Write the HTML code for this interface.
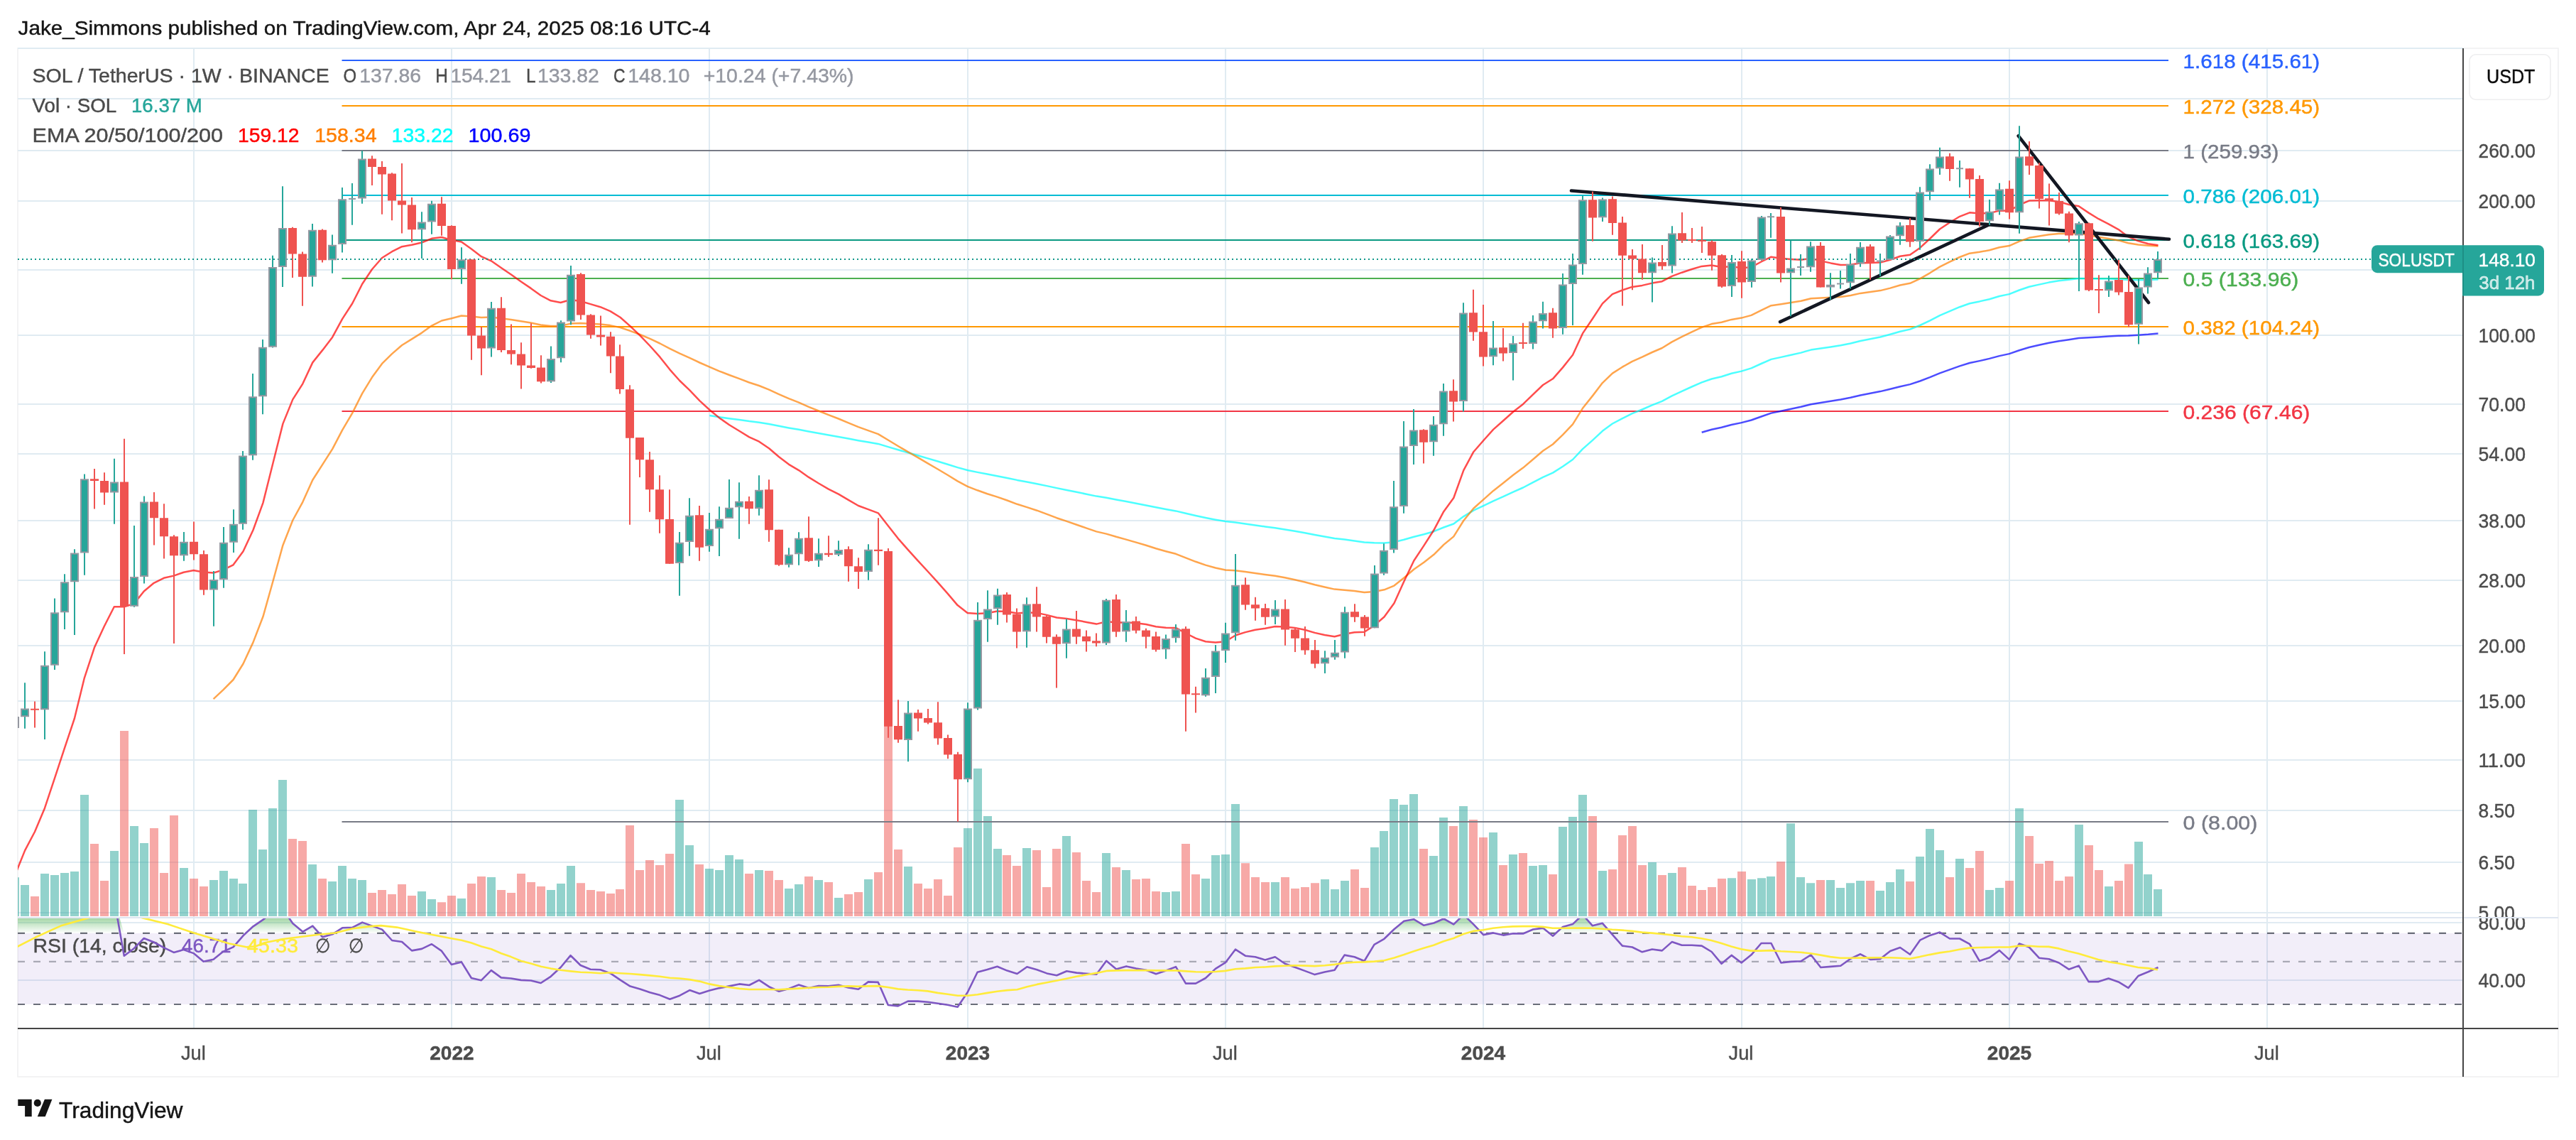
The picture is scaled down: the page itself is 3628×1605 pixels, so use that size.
<!DOCTYPE html><html><head><meta charset="utf-8"><title>SOLUSDT chart</title><style>html,body{margin:0;padding:0;background:#fff}body{width:3628px;height:1605px;position:relative;overflow:hidden}</style></head><body><svg width="3628" height="1605" viewBox="0 0 3628 1605" style="position:absolute;left:0;top:0;will-change:transform;opacity:0.9999" font-family="'Liberation Sans',sans-serif">
<defs>
<clipPath id="cm"><rect x="25" y="68" width="3444" height="1224"/></clipPath>
<clipPath id="cr"><rect x="25" y="1292.5" width="3444" height="154.5"/></clipPath>
<clipPath id="ca1"><rect x="3469" y="68" width="134" height="1223"/></clipPath>
<clipPath id="ca2"><rect x="3469" y="1293" width="134" height="155"/></clipPath>
<linearGradient id="og" gradientUnits="userSpaceOnUse" x1="0" y1="1271.7" x2="0" y2="1314"><stop offset="0" stop-color="#4caf50" stop-opacity="1"/><stop offset="1" stop-color="#4caf50" stop-opacity="0"/></linearGradient>
</defs>
<rect width="3628" height="1605" fill="#fff"/>
<rect x="25" y="68" width="3578" height="1448" fill="none" stroke="#f1f1f2" stroke-width="1.6"/>
<path d="M25 68H3469M25 139H3469M25 212H3469M25 283H3469M25 380H3469M25 472H3469M25 569H3469M25 639H3469M25 733H3469M25 817H3469M25 909H3469M25 987H3469M25 1070H3469M25 1141H3469M25 1214H3469M25 1285H3469M25 1299H3469M25 1380H3469M273 68V1447M636 68V1447M999 68V1447M1363 68V1447M1726 68V1447M2089 68V1447M2453 68V1447M2830 68V1447M3193 68V1447" stroke="#e0ebf2" stroke-width="2" fill="none"/>
<g clip-path="url(#cm)"><path d="M3033 1252h12V1290h-12zM3019 1231.1h12V1290h-12zM3006 1184.9h12V1290h-12zM2964 1248h12V1290h-12zM2922 1161.1h12V1290h-12zM2838 1138h12V1290h-12zM2810 1250.1h12V1290h-12zM2796 1253h12V1290h-12zM2754 1209.1h12V1290h-12zM2726 1197.1h12V1290h-12zM2712 1166.9h12V1290h-12zM2698 1206h12V1290h-12zM2670 1224.1h12V1290h-12zM2656 1241.9h12V1290h-12zM2642 1254h12V1290h-12zM2614 1240h12V1290h-12zM2600 1243.2h12V1290h-12zM2586 1250.1h12V1290h-12zM2572 1239.1h12V1290h-12zM2544 1243.2h12V1290h-12zM2530 1234.9h12V1290h-12zM2516 1159.2h12V1290h-12zM2488 1234h12V1290h-12zM2475 1236.2h12V1290h-12zM2461 1238.1h12V1290h-12zM2433 1236.2h12V1290h-12zM2349 1228.9h12V1290h-12zM2321 1214h12V1290h-12zM2251 1226h12V1290h-12zM2223 1118.9h12V1290h-12zM2209 1150h12V1290h-12zM2195 1164h12V1290h-12zM2167 1218.1h12V1290h-12zM2153 1219h12V1290h-12zM2125 1203.1h12V1290h-12zM2097 1172h12V1290h-12zM2055 1135.1h12V1290h-12zM2027 1151h12V1290h-12zM2013 1205h12V1290h-12zM1985 1117.9h12V1290h-12zM1971 1132.9h12V1290h-12zM1957 1124.9h12V1290h-12zM1943 1170.1h12V1290h-12zM1930 1193h12V1290h-12zM1888 1240h12V1290h-12zM1874 1252.1h12V1290h-12zM1860 1238.1h12V1290h-12zM1790 1241.9h12V1290h-12zM1734 1131.9h12V1290h-12zM1720 1203.1h12V1290h-12zM1706 1204.1h12V1290h-12zM1692 1237.1h12V1290h-12zM1650 1255h12V1290h-12zM1636 1255.9h12V1290h-12zM1580 1225.1h12V1290h-12zM1552 1200.9h12V1290h-12zM1496 1177.1h12V1290h-12zM1440 1193.9h12V1290h-12zM1399 1195.1h12V1290h-12zM1385 1149.1h12V1290h-12zM1371 1082h12V1290h-12zM1357 1166h12V1290h-12zM1273 1220h12V1290h-12zM1217 1238.1h12V1290h-12zM1175 1264.1h12V1290h-12zM1147 1239.1h12V1290h-12zM1119 1245.1h12V1290h-12zM1105 1251.1h12V1290h-12zM1063 1225.1h12V1290h-12zM1035 1210.1h12V1290h-12zM1021 1204.1h12V1290h-12zM1007 1225.1h12V1290h-12zM993 1223.1h12V1290h-12zM965 1190.1h12V1290h-12zM951 1125.9h12V1290h-12zM798 1219h12V1290h-12zM784 1244.1h12V1290h-12zM770 1253h12V1290h-12zM686 1234.9h12V1290h-12zM644 1265.1h12V1290h-12zM602 1266.1h12V1290h-12zM588 1255h12V1290h-12zM504 1239.1h12V1290h-12zM490 1237.1h12V1290h-12zM476 1219h12V1290h-12zM462 1241h12V1290h-12zM434 1217.1h12V1290h-12zM392 1097.9h12V1290h-12zM378 1138h12V1290h-12zM364 1196.1h12V1290h-12zM350 1139.9h12V1290h-12zM336 1244.1h12V1290h-12zM323 1237.1h12V1290h-12zM309 1226h12V1290h-12zM295 1239.1h12V1290h-12zM253 1221.9h12V1290h-12zM197 1186.9h12V1290h-12zM183 1163.1h12V1290h-12zM155 1198h12V1290h-12zM113 1118.9h12V1290h-12zM99 1227h12V1290h-12zM85 1228.9h12V1290h-12zM71 1232.1h12V1290h-12zM57 1230.1h12V1290h-12zM29 1246h12V1290h-12zM15 1235.2h12V1290h-12z" fill="#26a69a" fill-opacity="0.5"/><path d="M2992 1216.6h12V1290h-12zM2978 1240h12V1290h-12zM2950 1225.1h12V1290h-12zM2936 1190.1h12V1290h-12zM2908 1234h12V1290h-12zM2894 1240h12V1290h-12zM2880 1212h12V1290h-12zM2866 1216.1h12V1290h-12zM2852 1177.1h12V1290h-12zM2824 1240h12V1290h-12zM2782 1198h12V1290h-12zM2768 1221.9h12V1290h-12zM2740 1234.9h12V1290h-12zM2684 1241h12V1290h-12zM2628 1240h12V1290h-12zM2558 1239.1h12V1290h-12zM2502 1213h12V1290h-12zM2447 1227h12V1290h-12zM2419 1237.1h12V1290h-12zM2405 1248.9h12V1290h-12zM2391 1253h12V1290h-12zM2377 1247h12V1290h-12zM2363 1221h12V1290h-12zM2335 1232.1h12V1290h-12zM2307 1218.1h12V1290h-12zM2293 1163.1h12V1290h-12zM2279 1176.1h12V1290h-12zM2265 1224.1h12V1290h-12zM2237 1149.1h12V1290h-12zM2181 1231.1h12V1290h-12zM2139 1200.9h12V1290h-12zM2111 1218.1h12V1290h-12zM2083 1179h12V1290h-12zM2069 1153.9h12V1290h-12zM2041 1163.1h12V1290h-12zM1999 1195.1h12V1290h-12zM1916 1249.9h12V1290h-12zM1902 1224.1h12V1290h-12zM1846 1243.2h12V1290h-12zM1832 1248.9h12V1290h-12zM1818 1251.1h12V1290h-12zM1804 1234.9h12V1290h-12zM1776 1241.9h12V1290h-12zM1762 1234.9h12V1290h-12zM1748 1215.2h12V1290h-12zM1678 1231.1h12V1290h-12zM1664 1188.1h12V1290h-12zM1622 1255h12V1290h-12zM1608 1237.1h12V1290h-12zM1594 1238.1h12V1290h-12zM1566 1221h12V1290h-12zM1538 1255.9h12V1290h-12zM1524 1240h12V1290h-12zM1510 1200h12V1290h-12zM1482 1195.1h12V1290h-12zM1468 1248.9h12V1290h-12zM1454 1197.1h12V1290h-12zM1426 1219h12V1290h-12zM1412 1204.1h12V1290h-12zM1343 1193h12V1290h-12zM1329 1261h12V1290h-12zM1315 1238.1h12V1290h-12zM1301 1251.1h12V1290h-12zM1287 1244.1h12V1290h-12zM1259 1196.1h12V1290h-12zM1245 1000.7h12V1290h-12zM1231 1228h12V1290h-12zM1203 1255.9h12V1290h-12zM1189 1259.1h12V1290h-12zM1161 1241.9h12V1290h-12zM1133 1234h12V1290h-12zM1091 1239.1h12V1290h-12zM1077 1226h12V1290h-12zM1049 1230.1h12V1290h-12zM979 1217.1h12V1290h-12zM937 1201.9h12V1290h-12zM923 1218.1h12V1290h-12zM909 1211.1h12V1290h-12zM895 1225.1h12V1290h-12zM881 1161.9h12V1290h-12zM867 1252.1h12V1290h-12zM854 1258.1h12V1290h-12zM840 1255h12V1290h-12zM826 1253h12V1290h-12zM812 1243.2h12V1290h-12zM756 1248h12V1290h-12zM742 1241.9h12V1290h-12zM728 1230.1h12V1290h-12zM714 1257.1h12V1290h-12zM700 1253h12V1290h-12zM672 1234h12V1290h-12zM658 1244.1h12V1290h-12zM630 1261h12V1290h-12zM616 1270.2h12V1290h-12zM574 1261h12V1290h-12zM560 1245.1h12V1290h-12zM546 1259.1h12V1290h-12zM532 1253h12V1290h-12zM518 1257.1h12V1290h-12zM448 1237.1h12V1290h-12zM420 1184h12V1290h-12zM406 1180.9h12V1290h-12zM281 1248h12V1290h-12zM267 1237.1h12V1290h-12zM239 1148.1h12V1290h-12zM225 1228.9h12V1290h-12zM211 1166h12V1290h-12zM169 1028.9h12V1290h-12zM141 1240h12V1290h-12zM127 1187.9h12V1290h-12zM43 1262h12V1290h-12z" fill="#ef5350" fill-opacity="0.5"/></g>
<g clip-path="url(#cm)">
<path d="M481.5 85H3054" stroke="#2962ff" stroke-width="2"/>
<path d="M481.5 149H3054" stroke="#ff9800" stroke-width="2"/>
<path d="M481.5 212H3054" stroke="#787b86" stroke-width="2"/>
<path d="M481.5 275H3054" stroke="#00bcd4" stroke-width="2"/>
<path d="M481.5 338H3054" stroke="#089981" stroke-width="2"/>
<path d="M481.5 392H3054" stroke="#4caf50" stroke-width="2"/>
<path d="M481.5 460H3054" stroke="#ff9800" stroke-width="2"/>
<path d="M481.5 579H3054" stroke="#f23645" stroke-width="2"/>
<path d="M481.5 1157H3054" stroke="#787b86" stroke-width="2"/>
<polyline points="2396.7,608.7 2410.6,604.7 2424.6,601.7 2438.6,598 2452.6,595.1 2466.5,591.5 2480.5,586.5 2494.5,581.6 2508.4,578.7 2522.4,575.8 2536.4,572.8 2550.4,569.3 2564.3,567 2578.3,564.7 2592.3,562.4 2606.3,559.7 2620.2,556.5 2634.2,553.8 2648.2,551.1 2662.2,547.8 2676.1,544.2 2690.1,541.1 2704.1,536.5 2718.1,531.2 2732,525.4 2746,520.3 2760,515.4 2774,511 2787.9,508.1 2801.9,504.9 2815.9,501.1 2829.8,498.1 2843.8,493.3 2857.8,489 2871.8,485.8 2885.7,482.8 2899.7,480.2 2913.7,478.2 2927.7,476 2941.6,475.2 2955.6,474.4 2969.6,473.5 2983.6,472.8 2997.5,472.6 3011.5,471.8 3025.5,470.8 3039.5,469.4" fill="none" stroke="#0000ff" stroke-opacity="0.7" stroke-width="2.5" stroke-linejoin="round" stroke-linecap="butt"/>
<polyline points="999.3,585 1013.2,587.2 1027.2,589.3 1041.2,591.1 1055.2,593.1 1069.1,594.7 1083.1,597 1097.1,599.8 1111,602.4 1125,604.8 1139,607.5 1153,610 1166.9,612.5 1180.9,614.9 1194.9,617.6 1208.9,620.2 1222.8,622.6 1236.8,624.9 1250.8,629.1 1264.8,633.3 1278.7,637.3 1292.7,641.3 1306.7,645.4 1320.7,649.5 1334.6,653.8 1348.6,658.1 1362.6,662 1376.6,664.9 1390.5,667.6 1404.5,670.2 1418.5,672.9 1432.5,675.9 1446.4,678.4 1460.4,681.2 1474.4,684.1 1488.3,687.1 1502.3,689.9 1516.3,692.8 1530.3,695.7 1544.2,698.6 1558.2,700.8 1572.2,703.5 1586.2,706.1 1600.1,708.7 1614.1,711.4 1628.1,714.2 1642.1,716.9 1656,719.4 1670,722.7 1684,726 1698,729 1711.9,731.7 1725.9,734.1 1739.9,735.6 1753.9,737.5 1767.8,739.4 1781.8,741.4 1795.8,743.3 1809.7,745.5 1823.7,747.8 1837.7,750.3 1851.7,753 1865.6,755.5 1879.6,757.9 1893.6,759.6 1907.6,761.4 1921.5,763.4 1935.5,764.2 1949.5,764.4 1963.5,763.2 1977.4,759.8 1991.4,755.7 2005.4,752.3 2019.4,748.2 2033.3,742.5 2047.3,737.5 2061.3,727.1 2075.3,718.6 2089.2,712.1 2103.2,705.3 2117.2,699.2 2131.2,692.7 2145.1,686.5 2159.1,679.2 2173.1,671.8 2187,665.6 2201,656.8 2215,647 2229,632.1 2242.9,619.9 2256.9,606.8 2270.9,596.5 2284.9,589.1 2298.8,582.2 2312.8,576.5 2326.8,570.4 2340.8,564.8 2354.7,557.4 2368.7,550.8 2382.7,544.5 2396.7,538.4 2410.6,533.5 2424.6,530.2 2438.6,525.8 2452.6,522.6 2466.5,518.4 2480.5,512 2494.5,505.9 2508.4,502.9 2522.4,499.7 2536.4,496.6 2550.4,492.6 2564.3,490.5 2578.3,488.4 2592.3,486.3 2606.3,483.5 2620.2,480 2634.2,477.3 2648.2,474.5 2662.2,470.8 2676.1,466.8 2690.1,463.6 2704.1,458 2718.1,451.4 2732,444.2 2746,438.1 2760,432.2 2774,427.2 2787.9,424.4 2801.9,421.2 2815.9,417 2829.8,414.1 2843.8,408.5 2857.8,403.7 2871.8,400.6 2885.7,397.6 2899.7,395.3 2913.7,393.8 2927.7,392 2941.6,392.3 2955.6,392.6 2969.6,392.6 2983.6,393 2997.5,394.1 3011.5,394.3 3025.5,394 3039.5,393.4" fill="none" stroke="#00ffff" stroke-opacity="0.7" stroke-width="2.5" stroke-linejoin="round" stroke-linecap="butt"/>
<polyline points="300.6,984.1 314.5,971.1 328.5,957 342.5,934.5 356.5,904.4 370.4,868.3 384.4,818.5 398.4,767.7 412.3,732.5 426.3,706.8 440.3,675.7 454.3,653.9 468.2,632.2 482.2,605.3 496.2,581.6 510.2,553.9 524.1,531.1 538.1,511.9 552.1,498.1 566.1,486 580,477.4 594,468.6 608,458.6 622,451.5 635.9,448.2 649.9,444.5 663.9,445.5 677.9,447.1 691.8,446.6 705.8,448.2 719.8,450 733.8,452.3 747.7,454.6 761.7,457.4 775.7,459.1 789.6,458.9 803.6,455.6 817.6,455.1 831.6,455.8 845.5,456.5 859.5,458.1 873.5,461.1 887.5,465.8 901.4,471 915.4,476.9 929.4,483.5 943.4,490.8 957.3,497.7 971.3,503.8 985.3,510.5 999.3,516.7 1013.2,522.6 1027.2,528 1041.2,533.2 1055.2,538.5 1069.1,543 1083.1,548.7 1097.1,555.1 1111,561.2 1125,566.7 1139,572.8 1153,578.5 1166.9,584.1 1180.9,589.5 1194.9,595.3 1208.9,601.1 1222.8,606.1 1236.8,611.1 1250.8,619.5 1264.8,628 1278.7,636.1 1292.7,644.2 1306.7,652.3 1320.7,660.5 1334.6,668.8 1348.6,677.4 1362.6,684.9 1376.6,690.3 1390.5,695.2 1404.5,699.6 1418.5,704.5 1432.5,709.8 1446.4,714.1 1460.4,718.7 1474.4,723.9 1488.3,729.2 1502.3,733.9 1516.3,738.7 1530.3,743.6 1544.2,748.4 1558.2,751.6 1572.2,755.8 1586.2,759.6 1600.1,763.6 1614.1,767.8 1628.1,772.3 1642.1,776.2 1656,779.8 1670,785.3 1684,790.8 1698,795.6 1711.9,799.5 1725.9,802.5 1739.9,803.3 1753.9,805 1767.8,806.9 1781.8,809 1795.8,810.8 1809.7,813.3 1823.7,816.2 1837.7,819.5 1851.7,823.2 1865.6,826.5 1879.6,829.6 1893.6,830.8 1907.6,832.1 1921.5,834 1935.5,832.9 1949.5,830.3 1963.5,824.6 1977.4,813.5 1991.4,801.5 2005.4,791.7 2019.4,780.8 2033.3,766.9 2047.3,755.4 2061.3,733 2075.3,715.8 2089.2,703.4 2103.2,690.9 2117.2,680 2131.2,668.8 2145.1,658.6 2159.1,646.7 2173.1,634.8 2187,625.5 2201,612.1 2215,597.4 2229,574.8 2242.9,557.4 2256.9,539.1 2270.9,525.6 2284.9,516.7 2298.8,508.8 2312.8,502.6 2326.8,496 2340.8,490 2354.7,481.4 2368.7,474.1 2382.7,467.3 2396.7,460.9 2410.6,456.1 2424.6,453.8 2438.6,449.9 2452.6,447.6 2466.5,443.9 2480.5,436.9 2494.5,430.2 2508.4,428.2 2522.4,426 2536.4,423.8 2550.4,420.3 2564.3,419.6 2578.3,418.8 2592.3,418 2606.3,416 2620.2,412.9 2634.2,411 2648.2,409.1 2662.2,405.6 2676.1,401.5 2690.1,398.8 2704.1,392.4 2718.1,384.3 2732,375.6 2746,368.6 2760,362 2774,356.7 2787.9,354.8 2801.9,352.2 2815.9,348.3 2829.8,346.1 2843.8,339.9 2857.8,334.8 2871.8,332.4 2885.7,330.2 2899.7,328.9 2913.7,329 2927.7,328.4 2941.6,331.1 2955.6,333.7 2969.6,335.9 2983.6,338.4 2997.5,342.2 3011.5,344.4 3025.5,345.8 3039.5,346.5" fill="none" stroke="#ff7f00" stroke-opacity="0.7" stroke-width="2.5" stroke-linejoin="round" stroke-linecap="butt"/>
<polyline points="21.1,1232 35.1,1197.4 49,1171 63,1137.7 77,1095.7 90.9,1053.4 104.9,1011.5 118.9,954.3 132.9,911.8 146.8,881.7 160.8,854.3 174.8,854.2 188.8,849.9 202.7,832.5 216.7,820.8 230.7,813.8 244.7,810.6 258.6,805.7 272.6,803.1 286.6,805.6 300.6,806.6 314.5,802.2 328.5,795.3 342.5,776.3 356.5,746.2 370.4,708.1 384.4,652.2 398.4,596.6 412.3,562.4 426.3,540.3 440.3,510.4 454.3,492.9 468.2,474.7 482.2,448.9 496.2,427.3 510.2,399.8 524.1,379 538.1,363 552.1,354.2 566.1,347.2 580,344.8 594,341.5 608,335.8 622,334 635.9,338 649.9,340.5 663.9,350.6 677.9,361.2 691.8,367.3 705.8,377.1 719.8,386.5 733.8,396.4 747.7,405.9 761.7,416 775.7,423.3 789.6,426 803.6,422 817.6,424 831.6,428.1 845.5,432.2 859.5,438.1 873.5,446.8 887.5,459.1 901.4,472.3 915.4,487 929.4,502.7 943.4,520.3 957.3,536 971.3,549.3 985.3,564.1 999.3,577 1013.2,588.4 1027.2,598.2 1041.2,606.7 1055.2,615.4 1069.1,621.7 1083.1,631.3 1097.1,643.3 1111,653.8 1125,662.1 1139,671.9 1153,680.5 1166.9,688.6 1180.9,695.6 1194.9,703.8 1208.9,712 1222.8,717.2 1236.8,722.3 1250.8,740.2 1264.8,758.1 1278.7,773.9 1292.7,789.4 1306.7,804.5 1320.7,819.9 1334.6,835.6 1348.6,852.1 1362.6,863 1376.6,863.9 1390.5,863.2 1404.5,860.6 1418.5,861.1 1432.5,863.6 1446.4,862.3 1460.4,862.9 1474.4,865.9 1488.3,869.5 1502.3,871 1516.3,873.2 1530.3,875.9 1544.2,878.6 1558.2,875.1 1572.2,876.4 1586.2,876.3 1600.1,877.3 1614.1,879 1628.1,882.2 1642.1,883.7 1656,883.9 1670,891.5 1684,898.6 1698,903.3 1711.9,904.5 1725.9,903.2 1739.9,894.5 1753.9,890.1 1767.8,886.7 1781.8,884.8 1795.8,882.1 1809.7,882.5 1823.7,883.9 1837.7,886.8 1851.7,890.9 1865.6,894 1879.6,896.2 1893.6,892.7 1907.6,890.3 1921.5,889.7 1935.5,880.6 1949.5,868.5 1963.5,849.2 1977.4,818.5 1991.4,789.2 2005.4,768.1 2019.4,746.3 2033.3,720.2 2047.3,701 2061.3,662.2 2075.3,636.2 2089.2,620.2 2103.2,604.6 2117.2,592.3 2131.2,579.8 2145.1,568.9 2159.1,555.3 2173.1,542 2187,533.3 2201,517.4 2215,499.7 2229,469.4 2242.9,448.8 2256.9,427.4 2270.9,414.2 2284.9,408.5 2298.8,403.9 2312.8,401.9 2326.8,398.6 2340.8,396.2 2354.7,388.9 2368.7,383.7 2382.7,379 2396.7,374.9 2410.6,373.4 2424.6,376.1 2438.6,375.3 2452.6,377.3 2466.5,376.2 2480.5,368.5 2494.5,361.7 2508.4,363.7 2522.4,364.9 2536.4,365.8 2550.4,363.9 2564.3,367.4 2578.3,370.4 2592.3,372.9 2606.3,372.7 2620.2,370.2 2634.2,370 2648.2,369.6 2662.2,365.8 2676.1,360.8 2690.1,358.7 2704.1,348.9 2718.1,336 2732,322.5 2746,313.2 2760,304.8 2774,299.3 2787.9,300.4 2801.9,300.1 2815.9,296.6 2829.8,296.8 2843.8,288.5 2857.8,282.6 2871.8,282.3 2885.7,282.2 2899.7,283.9 2913.7,288 2927.7,290.3 2941.6,299.6 2955.6,308.2 2969.6,315.4 2983.6,323.1 2997.5,333.4 3011.5,339.3 3025.5,343.3 3039.5,345.2" fill="none" stroke="#ff0000" stroke-opacity="0.7" stroke-width="2.5" stroke-linejoin="round" stroke-linecap="butt"/>
<path d="M2213 268.5L3055 336.8" stroke="#131722" stroke-width="4.6" stroke-linecap="round"/>
<path d="M2507.1 453.2L2800.9 316.5" stroke="#131722" stroke-width="4.6" stroke-linecap="round"/>
<path d="M2842.7 191.3L3026 426" stroke="#131722" stroke-width="4.6" stroke-linecap="round"/>
<path d="M25 365H3340" stroke="#12988b" stroke-width="2" stroke-dasharray="2 4"/>
<path d="M3038 354.1h2V392.6h-2zM3024 376.2h2V413.4h-2zM3011 392.6h2V484.4h-2zM2969 388.1h2V417.9h-2zM2927 312.1h2V409.9h-2zM2843 177.3h2V328.8h-2zM2815 257.8h2V302.5h-2zM2801 281.1h2V317.1h-2zM2759 225.9h2V263.8h-2zM2731 207.7h2V245.9h-2zM2717 231.3h2V281.7h-2zM2703 263.2h2V351.7h-2zM2675 313.1h2V344.8h-2zM2661 331.1h2V366.1h-2zM2647 357.1h2V388.8h-2zM2619 341.1h2V375.7h-2zM2605 357.1h2V406.6h-2zM2591 381h2V406.6h-2zM2577 384.2h2V421.9h-2zM2549 340.2h2V382.7h-2zM2535 358h2V387.9h-2zM2521 338.5h2V445.3h-2zM2493 300h2V334.8h-2zM2480 304.1h2V366.7h-2zM2466 364.3h2V404.8h-2zM2438 359h2V417.9h-2zM2354 318.2h2V384.6h-2zM2326 362.6h2V425.6h-2zM2256 278.5h2V312h-2zM2228 275.3h2V386.8h-2zM2214 357.1h2V458h-2zM2200 385.1h2V470.8h-2zM2172 424.8h2V462.6h-2zM2158 443.9h2V491.5h-2zM2130 473h2V535.5h-2zM2102 452h2V514.3h-2zM2060 426.2h2V579.5h-2zM2032 540.1h2V613.8h-2zM2018 586.1h2V641.7h-2zM1990 576h2V654h-2zM1976 592.9h2V722.7h-2zM1962 677h2V778.6h-2zM1948 765.3h2V809.7h-2zM1935 796.1h2V884.2h-2zM1893 854.2h2V926.8h-2zM1879 901.1h2V928.7h-2zM1865 916.3h2V947.9h-2zM1795 845h2V878.9h-2zM1739 780h2V901.8h-2zM1725 876.8h2V932.9h-2zM1711 907.9h2V976.1h-2zM1697 941.1h2V980.8h-2zM1655 879h2V904.8h-2zM1641 893.6h2V927.8h-2zM1585 859h2V903.7h-2zM1557 843h2V908.1h-2zM1501 871.4h2V926.7h-2zM1445 841.2h2V911.8h-2zM1404 828.8h2V879.7h-2zM1390 831.3h2V903.7h-2zM1376 848.1h2V999.5h-2zM1362 989.3h2V1101.3h-2zM1278 987.1h2V1072.2h-2zM1222 766.3h2V816.7h-2zM1180 761.3h2V783h-2zM1152 758.3h2V798h-2zM1124 749.3h2V795.7h-2zM1110 771.3h2V798.7h-2zM1068 669.3h2V725.7h-2zM1040 679.3h2V758.7h-2zM1026 675h2V730h-2zM1012 713.3h2V783h-2zM998 722h2V776.7h-2zM970 701.3h2V782.7h-2zM956 749h2V838.7h-2zM803 373.9h2V457.3h-2zM789 451.3h2V510.2h-2zM775 487.4h2V539h-2zM691 425.1h2V502.4h-2zM649 348.2h2V399.7h-2zM607 282.8h2V329.7h-2zM593 298.3h2V364.1h-2zM509 212.3h2V286.7h-2zM495 257.9h2V316.8h-2zM481 263.9h2V355.5h-2zM467 330.5h2V384.7h-2zM439 315.1h2V403.6h-2zM397 262.2h2V404h-2zM383 359.8h2V489.6h-2zM369 478h2V583.2h-2zM355 526.1h2V647.7h-2zM341 634.9h2V745.7h-2zM328 717.3h2V778h-2zM314 742h2V827.7h-2zM300 804h2V881.7h-2zM258 749.1h2V789.8h-2zM202 698.4h2V821.6h-2zM188 740.1h2V854.7h-2zM160 645.8h2V737.7h-2zM118 667.6h2V809.7h-2zM104 773.2h2V894.1h-2zM90 808.3h2V886h-2zM76 842.4h2V942.9h-2zM62 917.3h2V1040.9h-2zM34 961.3h2V1025.8h-2zM20 1009h2V1025h-2z" fill="#26a69a"/><path d="M2997 388.1h2V460.6h-2zM2983 365.7h2V415.5h-2zM2955 387.2h2V440.9h-2zM2941 313.6h2V409.9h-2zM2913 297.8h2V341.3h-2zM2899 270.9h2V302.5h-2zM2885 258.4h2V317.4h-2zM2871 229.2h2V293.6h-2zM2857 199.1h2V245.9h-2zM2829 254.2h2V308.5h-2zM2787 247.1h2V318.9h-2zM2773 236.9h2V278.7h-2zM2745 215.8h2V254.8h-2zM2689 307.2h2V347.7h-2zM2633 344h2V393.8h-2zM2563 341.1h2V404.6h-2zM2507 292.1h2V397.6h-2zM2452 353.2h2V419.7h-2zM2424 357.9h2V405h-2zM2410 338.6h2V380.8h-2zM2396 319.1h2V356h-2zM2382 321h2V341.9h-2zM2368 298.9h2V341.9h-2zM2340 344.9h2V379.7h-2zM2312 344.1h2V393.8h-2zM2298 350.9h2V408.2h-2zM2284 304.9h2V430.5h-2zM2270 276.6h2V330.8h-2zM2242 269.8h2V339.7h-2zM2186 433.8h2V475.7h-2zM2144 454.7h2V490.9h-2zM2116 462.1h2V508.6h-2zM2088 428.9h2V515.6h-2zM2074 407.7h2V479.8h-2zM2046 534.2h2V593.5h-2zM2004 604.2h2V652.4h-2zM1921 866.1h2V895.8h-2zM1907 850.3h2V875.8h-2zM1851 901.1h2V940.8h-2zM1837 882.1h2V921.8h-2zM1823 884.2h2V917.9h-2zM1809 843.9h2V908.7h-2zM1781 850h2V879.7h-2zM1767 840.8h2V873.7h-2zM1753 813.2h2V858.7h-2zM1683 966.7h2V1003.5h-2zM1669 881.9h2V1029.7h-2zM1627 889.6h2V917.6h-2zM1613 884.8h2V912.8h-2zM1599 868.1h2V891.7h-2zM1571 837.1h2V896.8h-2zM1543 891.4h2V910.3h-2zM1529 887.4h2V917.6h-2zM1515 860.1h2V906.7h-2zM1487 893.2h2V968.5h-2zM1473 866.3h2V905.6h-2zM1459 826.2h2V889.6h-2zM1431 856.4h2V912.5h-2zM1417 833.9h2V876.5h-2zM1348 1058.8h2V1156.7h-2zM1334 1034.4h2V1068.2h-2zM1320 988.2h2V1048.6h-2zM1306 998h2V1019.5h-2zM1292 999.1h2V1029.7h-2zM1264 985.3h2V1045.7h-2zM1250 772h2V1038.8h-2zM1236 729.3h2V795.7h-2zM1208 785.3h2V829h-2zM1194 769.3h2V818.7h-2zM1166 754.3h2V784h-2zM1138 727.3h2V791h-2zM1096 745.7h2V796.7h-2zM1082 675.3h2V762.7h-2zM1054 699h2V737.7h-2zM984 712h2V789.7h-2zM942 689.3h2V793.7h-2zM928 669.3h2V750.7h-2zM914 636h2V720.7h-2zM900 616h2V672h-2zM886 542.3h2V738.7h-2zM872 485.3h2V554.5h-2zM859 467.2h2V525.2h-2zM845 444.4h2V486.5h-2zM831 442.3h2V476.7h-2zM817 384.3h2V450h-2zM761 500.3h2V539.4h-2zM747 455.2h2V518.8h-2zM733 482.2h2V547.6h-2zM719 456.5h2V513.2h-2zM705 418.2h2V496h-2zM677 459.9h2V528.2h-2zM663 364.9h2V506.7h-2zM635 317.2h2V393.3h-2zM621 277.2h2V331.8h-2zM579 278.1h2V341.3h-2zM565 230h2V328.4h-2zM551 243.3h2V310.3h-2zM537 227h2V301.7h-2zM523 219.2h2V260.9h-2zM453 322.4h2V369.6h-2zM425 354.6h2V430.7h-2zM411 319.8h2V391.1h-2zM286 775.1h2V837.7h-2zM272 734.4h2V788.4h-2zM244 753.3h2V905.9h-2zM230 709.3h2V786.5h-2zM216 693.1h2V767.5h-2zM174 617.8h2V921.1h-2zM146 665.2h2V710.7h-2zM132 660h2V716.4h-2zM48 987.4h2V1024.4h-2z" fill="#ef5350"/>
<path d="M2992 411.1h12V457.3h-12zM2978 394.1h12V411.4h-12zM2950 406.9h12V408.9h-12zM2936 314.2h12V408.4h-12zM2908 300.4h12V331.4h-12zM2894 283.1h12V300.7h-12zM2880 279.3h12V282.2h-12zM2866 233.1h12V279.9h-12zM2852 220.2h12V233.3h-12zM2824 265.8h12V299.2h-12zM2782 252.1h12V312.1h-12zM2768 237.2h12V252.4h-12zM2740 220.2h12V238.1h-12zM2684 317.1h12V340.5h-12zM2628 347h12V369.4h-12zM2558 346.1h12V404.6h-12zM2502 305h12V384.5h-12zM2447 368h12V397.4h-12zM2419 359.3h12V403.6h-12zM2405 340.3h12V359.8h-12zM2391 338.1h12V340.1h-12zM2377 337h12V339h-12zM2363 328.3h12V338.6h-12zM2335 369.1h12V374.8h-12zM2307 364.5h12V384.3h-12zM2293 359.6h12V364.5h-12zM2279 313.4h12V359.8h-12zM2265 280.2h12V313.9h-12zM2237 281.3h12V306.6h-12zM2181 440.3h12V462.6h-12zM2139 481.9h12V483.9h-12zM2111 489.3h12V497.4h-12zM2083 467.3h12V502.6h-12zM2069 440.3h12V467.5h-12zM2041 550.2h12V565.6h-12zM1999 605.2h12V622.7h-12zM1916 868.4h12V884.5h-12zM1902 861.3h12V868.7h-12zM1846 915.3h12V934.5h-12zM1832 898.4h12V915.5h-12zM1818 886.3h12V898.7h-12zM1804 857.4h12V886.6h-12zM1776 856.3h12V868.7h-12zM1762 851.3h12V856.6h-12zM1748 823.2h12V851.6h-12zM1678 976.2h12V978.2h-12zM1664 885.2h12V977.6h-12zM1622 896.1h12V914.7h-12zM1608 887.4h12V896.5h-12zM1594 874.6h12V887.7h-12zM1566 844.1h12V889.6h-12zM1538 902.3h12V905.6h-12zM1524 896.1h12V903h-12zM1510 885.5h12V896.5h-12zM1482 896.5h12V906.7h-12zM1468 868.1h12V896.8h-12zM1454 850.3h12V868.4h-12zM1426 864.8h12V889.6h-12zM1412 837.1h12V865.5h-12zM1343 1062h12V1097.3h-12zM1329 1039.1h12V1062.4h-12zM1315 1017.3h12V1039.5h-12zM1301 1011.1h12V1017.6h-12zM1287 1003.5h12V1011.5h-12zM1259 1022h12V1041.3h-12zM1245 776h12V1022.7h-12zM1231 773.7h12V776h-12zM1203 797.3h12V805h-12zM1189 773.3h12V797.3h-12zM1161 778.7h12V781.3h-12zM1133 757.3h12V789.7h-12zM1091 745.7h12V795.3h-12zM1077 689.3h12V746.3h-12zM1049 705.7h12V716.3h-12zM979 725.3h12V770.7h-12zM937 731h12V793.7h-12zM923 689.3h12V731.3h-12zM909 647.3h12V689.3h-12zM895 616h12V647.3h-12zM881 548.3h12V616.7h-12zM867 501.6h12V548h-12zM854 473.7h12V501.6h-12zM840 471.5h12V474.5h-12zM826 443.6h12V471.5h-12zM812 386h12V443.6h-12zM756 517.5h12V537.3h-12zM742 514.5h12V517.9h-12zM728 498.6h12V514.5h-12zM714 493h12V498.6h-12zM700 433.7h12V493h-12zM672 472.4h12V490.4h-12zM658 365.3h12V472.4h-12zM630 318.1h12V379.1h-12zM616 286.7h12V318.1h-12zM574 288.4h12V323.2h-12zM560 282.4h12V288.4h-12zM546 244.6h12V282.4h-12zM532 235.1h12V245.4h-12zM518 223.5h12V235.1h-12zM448 323.7h12V366.2h-12zM420 357.6h12V389.8h-12zM406 321.1h12V357.6h-12zM281 780.3h12V830.6h-12zM267 762.8h12V780.3h-12zM239 755.2h12V782.2h-12zM225 729.2h12V755.2h-12zM211 706.4h12V729.2h-12zM169 678.5h12V853.8h-12zM141 677h12V693.6h-12zM127 674.2h12V677h-12zM43 997.8h12V999.8h-12z" fill="#ef5350"/>
<path d="M3034 366.1h10V383.2h-10zM3020 385.5h10V403.5h-10zM3007 405.5h10V455.7h-10zM2965 396.6h10V408.3h-10zM2923 315.2h10V330.4h-10zM2839 221.5h10V298.2h-10zM2811 267.4h10V295.6h-10zM2797 298.8h10V310.2h-10zM2755 237.3h10V237.3h-10zM2727 221.5h10V236.2h-10zM2713 238.5h10V269.3h-10zM2699 271.6h10V339.1h-10zM2671 318.5h10V331.2h-10zM2657 333.6h10V365.1h-10zM2643 367.5h10V367.5h-10zM2615 348.7h10V370.3h-10zM2601 372.8h10V397.2h-10zM2587 399.4h10V399.4h-10zM2573 401.8h10V403.4h-10zM2545 347.4h10V375.3h-10zM2531 376h10V376h-10zM2517 378.6h10V383.2h-10zM2489 305.3h10V305.3h-10zM2476 306.5h10V365.1h-10zM2462 367.5h10V396.1h-10zM2434 369.9h10V402h-10zM2350 329.6h10V373.5h-10zM2322 370.6h10V383.3h-10zM2252 281.5h10V305.3h-10zM2224 282.3h10V371.1h-10zM2210 373.6h10V399.1h-10zM2196 401.4h10V461.1h-10zM2168 441.9h10V451.3h-10zM2154 453.6h10V483.1h-10zM2126 484.3h10V495.9h-10zM2098 490.5h10V501.3h-10zM2056 441.6h10V563.9h-10zM2028 551.5h10V596.2h-10zM2014 598.8h10V621.3h-10zM1986 606.5h10V626.9h-10zM1972 629.5h10V711.9h-10zM1958 714.2h10V773h-10zM1944 775.7h10V806.4h-10zM1931 808.6h10V883.2h-10zM1889 862.8h10V917.4h-10zM1875 919.7h10V924.5h-10zM1861 926.8h10V933.2h-10zM1791 858.6h10V867.4h-10zM1735 824.7h10V890.3h-10zM1721 892.6h10V915.1h-10zM1707 917.6h10V951.9h-10zM1693 954.7h10V978.2h-10zM1651 886.5h10V897.3h-10zM1637 900h10V913.3h-10zM1581 876h10V888.2h-10zM1553 845.8h10V904.6h-10zM1497 886.5h10V905.3h-10zM1441 851.6h10V888.2h-10zM1400 838.5h10V856.2h-10zM1386 858.5h10V871.1h-10zM1372 873.8h10V996.6h-10zM1358 998.6h10V1096.3h-10zM1274 1004.5h10V1041h-10zM1218 774.7h10V804h-10zM1176 775h10V780h-10zM1148 779.7h10V788.3h-10zM1120 758.7h10V779.3h-10zM1106 781.7h10V794.3h-10zM1064 690.7h10V715.3h-10zM1036 706.7h10V713.3h-10zM1022 715.7h10V729h-10zM1008 731.7h10V743.3h-10zM994 745.7h10V768h-10zM966 726.7h10V762h-10zM952 764.7h10V792h-10zM799 387.8h10V451.6h-10zM785 454.5h10V503.2h-10zM771 506h10V536.3h-10zM687 434.7h10V489.4h-10zM645 366.3h10V378.1h-10zM603 287.7h10V311.5h-10zM589 313.5h10V322.2h-10zM505 224.5h10V278.4h-10zM491 280h10V280h-10zM477 281.3h10V342.9h-10zM463 345.7h10V365.2h-10zM435 324.7h10V388.8h-10zM393 322.1h10V375.1h-10zM379 377.1h10V487.7h-10zM365 489.7h10V557.3h-10zM351 559.3h10V640.3h-10zM337 642.5h10V736.7h-10zM324 738.7h10V762.8h-10zM310 764.8h10V814.9h-10zM296 816.9h10V829.6h-10zM254 763.8h10V781.2h-10zM198 707.4h10V811.1h-10zM184 813.1h10V852.8h-10zM156 679.5h10V692.6h-10zM114 675.2h10V777.4h-10zM100 779.4h10V818.2h-10zM86 820.2h10V861.3h-10zM72 863.3h10V935.7h-10zM58 937.7h10V998.2h-10zM30 998.4h10V1008.2h-10zM16 1010h10V1024h-10z" fill="#26a69a" stroke="#9598a1" stroke-width="2"/>
</g>
<text x="3074.5" y="95.7" font-size="28" fill="#2962ff" stroke="#2962ff" stroke-width="0.45" textLength="192.7" lengthAdjust="spacingAndGlyphs" xml:space="preserve">1.618 (415.61)</text>
<text x="3074.5" y="159.7" font-size="28" fill="#ff9800" stroke="#ff9800" stroke-width="0.45" textLength="192.7" lengthAdjust="spacingAndGlyphs" xml:space="preserve">1.272 (328.45)</text>
<text x="3074.5" y="222.7" font-size="28" fill="#787b86" stroke="#787b86" stroke-width="0.45" textLength="134.8" lengthAdjust="spacingAndGlyphs" xml:space="preserve">1 (259.93)</text>
<text x="3074.5" y="285.7" font-size="28" fill="#00bcd4" stroke="#00bcd4" stroke-width="0.45" textLength="192.7" lengthAdjust="spacingAndGlyphs" xml:space="preserve">0.786 (206.01)</text>
<text x="3074.5" y="348.7" font-size="28" fill="#089981" stroke="#089981" stroke-width="0.45" textLength="192.7" lengthAdjust="spacingAndGlyphs" xml:space="preserve">0.618 (163.69)</text>
<text x="3074.5" y="402.7" font-size="28" fill="#4caf50" stroke="#4caf50" stroke-width="0.45" textLength="162.8" lengthAdjust="spacingAndGlyphs" xml:space="preserve">0.5 (133.96)</text>
<text x="3074.5" y="470.7" font-size="28" fill="#ff9800" stroke="#ff9800" stroke-width="0.45" textLength="192.7" lengthAdjust="spacingAndGlyphs" xml:space="preserve">0.382 (104.24)</text>
<text x="3074.5" y="589.7" font-size="28" fill="#f23645" stroke="#f23645" stroke-width="0.45" textLength="178.9" lengthAdjust="spacingAndGlyphs" xml:space="preserve">0.236 (67.46)</text>
<text x="3074.5" y="1167.7" font-size="28" fill="#787b86" stroke="#787b86" stroke-width="0.45" textLength="104.9" lengthAdjust="spacingAndGlyphs" xml:space="preserve">0 (8.00)</text>
<text x="45.6" y="115.6" font-size="28" fill="#4a4a4a" stroke="#4a4a4a" stroke-width="0.45" textLength="418.1" lengthAdjust="spacingAndGlyphs" xml:space="preserve">SOL / TetherUS · 1W · BINANCE</text>
<text x="483.5" y="115.6" font-size="28" fill="#4a4a4a" stroke="#4a4a4a" stroke-width="0.45" textLength="18.6" lengthAdjust="spacingAndGlyphs" xml:space="preserve">O</text>
<text x="506.2" y="115.6" font-size="28" fill="#9598a1" stroke="#9598a1" stroke-width="0.45" textLength="86.8" lengthAdjust="spacingAndGlyphs" xml:space="preserve">137.86</text>
<text x="613.2" y="115.6" font-size="28" fill="#4a4a4a" stroke="#4a4a4a" stroke-width="0.45" textLength="17.6" lengthAdjust="spacingAndGlyphs" xml:space="preserve">H</text>
<text x="634.4" y="115.6" font-size="28" fill="#9598a1" stroke="#9598a1" stroke-width="0.45" textLength="85.8" lengthAdjust="spacingAndGlyphs" xml:space="preserve">154.21</text>
<text x="740.9" y="115.6" font-size="28" fill="#4a4a4a" stroke="#4a4a4a" stroke-width="0.45" textLength="13.6" lengthAdjust="spacingAndGlyphs" xml:space="preserve">L</text>
<text x="757" y="115.6" font-size="28" fill="#9598a1" stroke="#9598a1" stroke-width="0.45" textLength="86.8" lengthAdjust="spacingAndGlyphs" xml:space="preserve">133.82</text>
<text x="864" y="115.6" font-size="28" fill="#4a4a4a" stroke="#4a4a4a" stroke-width="0.45" textLength="16.6" lengthAdjust="spacingAndGlyphs" xml:space="preserve">C</text>
<text x="884.2" y="115.6" font-size="28" fill="#9598a1" stroke="#9598a1" stroke-width="0.45" textLength="87.3" lengthAdjust="spacingAndGlyphs" xml:space="preserve">148.10</text>
<text x="990.7" y="115.6" font-size="28" fill="#9598a1" stroke="#9598a1" stroke-width="0.45" textLength="211.9" lengthAdjust="spacingAndGlyphs" xml:space="preserve">+10.24 (+7.43%)</text>
<text x="45.6" y="157.6" font-size="28" fill="#4a4a4a" stroke="#4a4a4a" stroke-width="0.45" textLength="118.6" lengthAdjust="spacingAndGlyphs" xml:space="preserve">Vol · SOL</text>
<text x="185" y="157.6" font-size="28" fill="#26a69a" stroke="#26a69a" stroke-width="0.45" textLength="99.8" lengthAdjust="spacingAndGlyphs" xml:space="preserve">16.37 M</text>
<text x="45.6" y="199.8" font-size="28" fill="#4a4a4a" stroke="#4a4a4a" stroke-width="0.45" textLength="268.4" lengthAdjust="spacingAndGlyphs" xml:space="preserve">EMA 20/50/100/200</text>
<text x="335.1" y="199.8" font-size="28" fill="#ff0000" stroke="#ff0000" stroke-width="0.45" textLength="86.4" lengthAdjust="spacingAndGlyphs" xml:space="preserve">159.12</text>
<text x="443.2" y="199.8" font-size="28" fill="#ff7f00" stroke="#ff7f00" stroke-width="0.45" textLength="87.4" lengthAdjust="spacingAndGlyphs" xml:space="preserve">158.34</text>
<text x="551.6" y="199.8" font-size="28" fill="#00ffff" stroke="#00ffff" stroke-width="0.45" textLength="86.9" lengthAdjust="spacingAndGlyphs" xml:space="preserve">133.22</text>
<text x="659.6" y="199.8" font-size="28" fill="#0000ff" stroke="#0000ff" stroke-width="0.45" textLength="87.8" lengthAdjust="spacingAndGlyphs" xml:space="preserve">100.69</text>
<g clip-path="url(#cr)">
<rect x="25" y="1313.9" width="3444" height="100.09999999999991" fill="#7e57c2" fill-opacity="0.1"/>
<path d="M25 1313.9H3469M25 1414.0H3469" stroke="#6a6d78" stroke-width="2.2" stroke-dasharray="10 12" fill="none"/>
<path d="M25 1353.9H3469" stroke="#a9a9b5" stroke-width="2.2" stroke-dasharray="10 12" fill="none"/>
<path d="M21.1 1313.9L21.1 1270.1L35.1 1270.1L49 1268.8L63 1271.3L77 1268.8L90.9 1266.3L104.9 1265.1L118.9 1260.1L132.9 1261.4L146.8 1265.1L160.8 1266.3L174.8 1313.9L188.8 1313.9L202.7 1313.9L216.7 1313.9L230.7 1313.9L244.7 1313.9L258.6 1313.9L272.6 1313.9L286.6 1313.9L300.6 1313.9L314.5 1313.9L328.5 1313.9L342.5 1313.9L356.5 1304.3L370.4 1294.9L384.4 1283.7L398.4 1280L412.3 1299.9L426.3 1311.8L440.3 1303.6L454.3 1313.9L468.2 1313.9L482.2 1306.3L496.2 1305.8L510.2 1298.6L524.1 1303.6L538.1 1308.6L552.1 1313.9L566.1 1313.9L580 1313.9L594 1313.9L608 1313.9L622 1313.9L635.9 1313.9L649.9 1313.9L663.9 1313.9L677.9 1313.9L691.8 1313.9L705.8 1313.9L719.8 1313.9L733.8 1313.9L747.7 1313.9L761.7 1313.9L775.7 1313.9L789.6 1313.9L803.6 1313.9L817.6 1313.9L831.6 1313.9L845.5 1313.9L859.5 1313.9L873.5 1313.9L887.5 1313.9L901.4 1313.9L915.4 1313.9L929.4 1313.9L943.4 1313.9L957.3 1313.9L971.3 1313.9L985.3 1313.9L999.3 1313.9L1013.2 1313.9L1027.2 1313.9L1041.2 1313.9L1055.2 1313.9L1069.1 1313.9L1083.1 1313.9L1097.1 1313.9L1111 1313.9L1125 1313.9L1139 1313.9L1153 1313.9L1166.9 1313.9L1180.9 1313.9L1194.9 1313.9L1208.9 1313.9L1222.8 1313.9L1236.8 1313.9L1250.8 1313.9L1264.8 1313.9L1278.7 1313.9L1292.7 1313.9L1306.7 1313.9L1320.7 1313.9L1334.6 1313.9L1348.6 1313.9L1362.6 1313.9L1376.6 1313.9L1390.5 1313.9L1404.5 1313.9L1418.5 1313.9L1432.5 1313.9L1446.4 1313.9L1460.4 1313.9L1474.4 1313.9L1488.3 1313.9L1502.3 1313.9L1516.3 1313.9L1530.3 1313.9L1544.2 1313.9L1558.2 1313.9L1572.2 1313.9L1586.2 1313.9L1600.1 1313.9L1614.1 1313.9L1628.1 1313.9L1642.1 1313.9L1656 1313.9L1670 1313.9L1684 1313.9L1698 1313.9L1711.9 1313.9L1725.9 1313.9L1739.9 1313.9L1753.9 1313.9L1767.8 1313.9L1781.8 1313.9L1795.8 1313.9L1809.7 1313.9L1823.7 1313.9L1837.7 1313.9L1851.7 1313.9L1865.6 1313.9L1879.6 1313.9L1893.6 1313.9L1907.6 1313.9L1921.5 1313.9L1935.5 1313.9L1949.5 1313.9L1963.5 1308.2L1977.4 1296.8L1991.4 1294.3L2005.4 1302.8L2019.4 1299.5L2033.3 1293.5L2047.3 1301.4L2061.3 1287.8L2075.3 1301.4L2089.2 1313.9L2103.2 1313.4L2117.2 1313.9L2131.2 1313.9L2145.1 1313.9L2159.1 1308.5L2173.1 1306.6L2187 1313.9L2201 1304.9L2215 1301.1L2229 1287.8L2242.9 1303.3L2256.9 1299.8L2270.9 1313.9L2284.9 1313.9L2298.8 1313.9L2312.8 1313.9L2326.8 1313.9L2340.8 1313.9L2354.7 1313.9L2368.7 1313.9L2382.7 1313.9L2396.7 1313.9L2410.6 1313.9L2424.6 1313.9L2438.6 1313.9L2452.6 1313.9L2466.5 1313.9L2480.5 1313.9L2494.5 1313.9L2508.4 1313.9L2522.4 1313.9L2536.4 1313.9L2550.4 1313.9L2564.3 1313.9L2578.3 1313.9L2592.3 1313.9L2606.3 1313.9L2620.2 1313.9L2634.2 1313.9L2648.2 1313.9L2662.2 1313.9L2676.1 1313.9L2690.1 1313.9L2704.1 1313.9L2718.1 1313.9L2732 1312.6L2746 1313.9L2760 1313.9L2774 1313.9L2787.9 1313.9L2801.9 1313.9L2815.9 1313.9L2829.8 1313.9L2843.8 1313.9L2857.8 1313.9L2871.8 1313.9L2885.7 1313.9L2899.7 1313.9L2913.7 1313.9L2927.7 1313.9L2941.6 1313.9L2955.6 1313.9L2969.6 1313.9L2983.6 1313.9L2997.5 1313.9L3011.5 1313.9L3025.5 1313.9L3039.5 1313.9L3039.5 1313.9z" fill="url(#og)"/>
<text x="46.5" y="1341.4" font-size="28" fill="#4a4a4a" stroke="#4a4a4a" stroke-width="0.45" textLength="187.8" lengthAdjust="spacingAndGlyphs" xml:space="preserve">RSI (14, close)</text>
<text x="256" y="1341.4" font-size="28" fill="#7e57c2" stroke="#7e57c2" stroke-width="0.45" textLength="69.5" lengthAdjust="spacingAndGlyphs" xml:space="preserve">46.71</text>
<text x="347.8" y="1341.4" font-size="28" fill="#ffeb3b" stroke="#ffeb3b" stroke-width="0.45" textLength="72.2" lengthAdjust="spacingAndGlyphs" xml:space="preserve">45.33</text>
<text x="443.5" y="1341.4" font-size="28" fill="#4a4a4a" stroke="#4a4a4a" stroke-width="0.45" textLength="21" lengthAdjust="spacingAndGlyphs" xml:space="preserve">∅</text>
<text x="490.7" y="1341.4" font-size="28" fill="#4a4a4a" stroke="#4a4a4a" stroke-width="0.45" textLength="21" lengthAdjust="spacingAndGlyphs" xml:space="preserve">∅</text>
<polyline points="21.1,1270.1 35.1,1270.1 49,1268.8 63,1271.3 77,1268.8 90.9,1266.3 104.9,1265.1 118.9,1260.1 132.9,1261.4 146.8,1265.1 160.8,1266.3 174.8,1345.8 188.8,1335.2 202.7,1321 216.7,1326.5 230.7,1334.2 244.7,1340.9 258.6,1337.1 272.6,1342.1 286.6,1353.8 300.6,1350.8 314.5,1339.6 328.5,1333.4 342.5,1317.3 356.5,1304.3 370.4,1294.9 384.4,1283.7 398.4,1280 412.3,1299.9 426.3,1311.8 440.3,1303.6 454.3,1319.3 468.2,1315.3 482.2,1306.3 496.2,1305.8 510.2,1298.6 524.1,1303.6 538.1,1308.6 552.1,1324 566.1,1326 580,1338.4 594,1335.9 608,1329.2 622,1338.9 635.9,1357.9 649.9,1354.4 663.9,1377 677.9,1380.2 691.8,1366.1 705.8,1376.4 719.8,1377.5 733.8,1379.9 747.7,1380.5 761.7,1384 775.7,1374.8 789.6,1362 803.6,1345.2 817.6,1359 831.6,1364.7 845.5,1365.3 859.5,1370.2 873.5,1379.7 887.5,1388.6 901.4,1392.4 915.4,1397.3 929.4,1401.1 943.4,1406.8 957.3,1401.7 971.3,1394.1 985.3,1399 999.3,1394.6 1013.2,1391.1 1027.2,1388.4 1041.2,1385.4 1055.2,1387 1069.1,1379.9 1083.1,1389.2 1097.1,1395.7 1111,1391.9 1125,1386.5 1139,1391.1 1153,1388.1 1166.9,1388.4 1180.9,1386.7 1194.9,1390.5 1208.9,1392.7 1222.8,1382.4 1236.8,1382.9 1250.8,1415 1264.8,1416.4 1278.7,1409.6 1292.7,1409.6 1306.7,1410.7 1320.7,1412.8 1334.6,1414.7 1348.6,1417.7 1362.6,1397.3 1376.6,1368.8 1390.5,1365 1404.5,1360.7 1418.5,1366.6 1432.5,1371 1446.4,1361.2 1460.4,1365.3 1474.4,1370.4 1488.3,1373.2 1502.3,1367.2 1516.3,1369.6 1530.3,1370.7 1544.2,1371.8 1558.2,1352.8 1572.2,1364.5 1586.2,1360.4 1600.1,1363.6 1614.1,1365.8 1628.1,1371.2 1642.1,1366.4 1656,1361.2 1670,1384.6 1684,1384.6 1698,1377 1711.9,1363.9 1725.9,1355.2 1739.9,1336.7 1753.9,1345.7 1767.8,1347.3 1781.8,1351.4 1795.8,1347.3 1809.7,1356.8 1823.7,1361.7 1837.7,1366.9 1851.7,1372.1 1865.6,1368.5 1879.6,1365.8 1893.6,1344.6 1907.6,1347.3 1921.5,1353 1935.5,1329.9 1949.5,1321.8 1963.5,1308.2 1977.4,1296.8 1991.4,1294.3 2005.4,1302.8 2019.4,1299.5 2033.3,1293.5 2047.3,1301.4 2061.3,1287.8 2075.3,1301.4 2089.2,1316.1 2103.2,1313.4 2117.2,1316.6 2131.2,1314.2 2145.1,1314.5 2159.1,1308.5 2173.1,1306.6 2187,1317.7 2201,1304.9 2215,1301.1 2229,1287.8 2242.9,1303.3 2256.9,1299.8 2270.9,1315.8 2284.9,1331.6 2298.8,1333.5 2312.8,1340.3 2326.8,1336.5 2340.8,1338.4 2354.7,1326.1 2368.7,1330.8 2382.7,1330.8 2396.7,1331.6 2410.6,1340 2424.6,1356.8 2438.6,1344.9 2452.6,1355.5 2466.5,1344.3 2480.5,1328 2494.5,1328 2508.4,1355.5 2522.4,1353.9 2536.4,1353.3 2550.4,1344.3 2564.3,1362 2578.3,1360.9 2592.3,1359.8 2606.3,1349.8 2620.2,1343.3 2634.2,1350.9 2648.2,1350.1 2662.2,1338.9 2676.1,1334 2690.1,1343.8 2704.1,1323.7 2718.1,1316.9 2732,1312.6 2746,1321.5 2760,1321.5 2774,1329.1 2787.9,1353 2801.9,1348.2 2815.9,1338.1 2829.8,1350.9 2843.8,1328.6 2857.8,1333.5 2871.8,1348.7 2885.7,1350.3 2899.7,1355.5 2913.7,1364.7 2927.7,1359.6 2941.6,1382.1 2955.6,1382.1 2969.6,1377.5 2983.6,1382.4 2997.5,1390.8 3011.5,1374 3025.5,1368.3 3039.5,1362" fill="none" stroke="#7e57c2" stroke-width="2.6" stroke-linejoin="round"/>
<polyline points="23.4,1333.4 49.7,1319.8 87,1302.9 124.2,1292.4 144.1,1287.5 164,1285.5 183.9,1288 201.2,1292.4 236,1301.1 273.3,1313.5 298.1,1321 323,1328.4 347.8,1333.4 360.2,1332.2 372.7,1327.2 397.5,1322.2 427.3,1318.5 447.2,1316 472,1313.5 496.9,1307.3 521.7,1304.1 536.6,1303.1 559,1305.6 583.9,1311.1 608.7,1316 636,1321.3 649.9,1323.7 664,1327.5 677.9,1332.4 692,1336.2 705.9,1342.2 719.7,1347.1 733.9,1353 747.7,1356.6 761.8,1360.7 775.7,1363.6 789.6,1365.8 803.7,1367.4 817.6,1368.8 831.7,1369.3 845.5,1370.2 859.4,1369.3 873.5,1370.2 887.4,1371 901.5,1372.1 915.4,1373.4 929.2,1374.8 943.4,1376.7 957.2,1377.5 971.4,1379.1 985.2,1381.6 999.1,1385.4 1013.2,1388.1 1027.1,1390 1041.2,1391.9 1055.1,1393 1068.9,1393 1083,1393 1096.9,1393.3 1111,1392.4 1124.9,1391.6 1138.8,1390.8 1152.9,1390 1166.7,1389.7 1180.9,1388.9 1194.7,1388.4 1208.6,1388.9 1222.7,1388.4 1236.6,1388.1 1250.7,1390 1264.6,1392.4 1278.4,1393.5 1292.6,1394.3 1306.4,1395.4 1320.6,1397.9 1334.8,1399.8 1348.9,1401.7 1362.8,1401.7 1376.6,1400.3 1390.8,1397.9 1404.6,1395.7 1418.8,1394.1 1432.6,1393.3 1446.5,1389.2 1460.6,1385.9 1474.5,1383.2 1488.6,1380.5 1502.4,1377.8 1516.3,1374.8 1530.4,1372.3 1544.3,1369.9 1558.4,1366.9 1572.3,1366.4 1586.1,1366.1 1600.3,1366.1 1614.1,1366.1 1628.3,1366.4 1642.1,1366.4 1656,1366.4 1670.1,1367.4 1684,1368.3 1698.1,1368.5 1712,1368 1725.8,1366.9 1739.9,1364.2 1753.8,1363.4 1767.9,1362 1781.8,1361.5 1795.9,1360.4 1809.8,1359.8 1823.6,1359.3 1837.8,1359.6 1851.6,1360.1 1865.8,1359.3 1879.6,1357.9 1893.5,1355.8 1907.6,1354.7 1921.5,1354.4 1935.6,1353.6 1949.5,1352.2 1963.6,1348.4 1977.4,1344.1 1991.2,1339.2 2005.3,1334.8 2019.1,1330.8 2033,1325.3 2047.1,1321 2061,1315 2075.1,1310.9 2089,1309.3 2102.8,1306.8 2117,1305.2 2130.8,1304.4 2144.9,1304.1 2158.8,1304.1 2172.7,1304.9 2186.8,1306.8 2200.7,1306.8 2214.8,1306.6 2228.6,1306.6 2242.5,1306.8 2256.6,1307.7 2270.5,1308.8 2284.6,1309.6 2298.5,1310.9 2312.6,1312.6 2326.5,1313.6 2340.3,1315 2354.5,1316.4 2368.3,1318.3 2382.4,1319.3 2396.3,1321.2 2410.2,1324 2424.3,1328 2438.2,1332.4 2452,1336.2 2466.1,1338.6 2480,1338.6 2494.1,1338.1 2508,1339.2 2522.1,1340 2536,1340.8 2549.8,1342.2 2564,1344.6 2577.8,1347.1 2592,1348.7 2605.9,1348.8 2619.8,1348.6 2633.9,1348.4 2647.7,1348.2 2661.9,1348.2 2675.7,1348.8 2689.7,1349.8 2703.8,1347.1 2717.7,1344.1 2731.8,1341.4 2745.7,1339.5 2759.5,1336.7 2773.6,1334.6 2787.5,1334 2801.6,1333.8 2815.5,1333.5 2829.6,1333.5 2843.5,1331.6 2857.3,1331.8 2871.5,1332.7 2885.3,1332.9 2899.5,1335.4 2913.3,1339.2 2927.2,1342.4 2941.3,1346.8 2955.2,1350.9 2969.3,1354.1 2983.2,1356.3 2997,1359 3011.1,1362 3025,1363.1 3038.9,1365.3" fill="none" stroke="#ffeb3b" stroke-width="2.6" stroke-linejoin="round"/>
</g>
<path d="M25 1292H3603" stroke="#dfe6f0" stroke-width="2"/>
<g clip-path="url(#ca1)">
<text x="3490.6" y="222.4" font-size="27" fill="#4c4c4c" stroke="#4c4c4c" stroke-width="0.45" textLength="80.4" lengthAdjust="spacingAndGlyphs" xml:space="preserve">260.00</text>
</g>
<g clip-path="url(#ca1)">
<text x="3490.6" y="293.4" font-size="27" fill="#4c4c4c" stroke="#4c4c4c" stroke-width="0.45" textLength="80.4" lengthAdjust="spacingAndGlyphs" xml:space="preserve">200.00</text>
</g>
<g clip-path="url(#ca1)">
<text x="3490.6" y="482.4" font-size="27" fill="#4c4c4c" stroke="#4c4c4c" stroke-width="0.45" textLength="80.4" lengthAdjust="spacingAndGlyphs" xml:space="preserve">100.00</text>
</g>
<g clip-path="url(#ca1)">
<text x="3490.6" y="579.4" font-size="27" fill="#4c4c4c" stroke="#4c4c4c" stroke-width="0.45" textLength="66.4" lengthAdjust="spacingAndGlyphs" xml:space="preserve">70.00</text>
</g>
<g clip-path="url(#ca1)">
<text x="3490.6" y="649.4" font-size="27" fill="#4c4c4c" stroke="#4c4c4c" stroke-width="0.45" textLength="66.4" lengthAdjust="spacingAndGlyphs" xml:space="preserve">54.00</text>
</g>
<g clip-path="url(#ca1)">
<text x="3490.6" y="743.4" font-size="27" fill="#4c4c4c" stroke="#4c4c4c" stroke-width="0.45" textLength="66.4" lengthAdjust="spacingAndGlyphs" xml:space="preserve">38.00</text>
</g>
<g clip-path="url(#ca1)">
<text x="3490.6" y="827.4" font-size="27" fill="#4c4c4c" stroke="#4c4c4c" stroke-width="0.45" textLength="66.4" lengthAdjust="spacingAndGlyphs" xml:space="preserve">28.00</text>
</g>
<g clip-path="url(#ca1)">
<text x="3490.6" y="919.4" font-size="27" fill="#4c4c4c" stroke="#4c4c4c" stroke-width="0.45" textLength="66.4" lengthAdjust="spacingAndGlyphs" xml:space="preserve">20.00</text>
</g>
<g clip-path="url(#ca1)">
<text x="3490.6" y="997.4" font-size="27" fill="#4c4c4c" stroke="#4c4c4c" stroke-width="0.45" textLength="66.4" lengthAdjust="spacingAndGlyphs" xml:space="preserve">15.00</text>
</g>
<g clip-path="url(#ca1)">
<text x="3490.6" y="1080.4" font-size="27" fill="#4c4c4c" stroke="#4c4c4c" stroke-width="0.45" textLength="66.4" lengthAdjust="spacingAndGlyphs" xml:space="preserve">11.00</text>
</g>
<g clip-path="url(#ca1)">
<text x="3490.6" y="1151.4" font-size="27" fill="#4c4c4c" stroke="#4c4c4c" stroke-width="0.45" textLength="51.4" lengthAdjust="spacingAndGlyphs" xml:space="preserve">8.50</text>
</g>
<g clip-path="url(#ca1)">
<text x="3490.6" y="1224.4" font-size="27" fill="#4c4c4c" stroke="#4c4c4c" stroke-width="0.45" textLength="51.4" lengthAdjust="spacingAndGlyphs" xml:space="preserve">6.50</text>
</g>
<g clip-path="url(#ca1)">
<text x="3490.6" y="1295.4" font-size="27" fill="#4c4c4c" stroke="#4c4c4c" stroke-width="0.45" textLength="51.4" lengthAdjust="spacingAndGlyphs" xml:space="preserve">5.00</text>
</g>
<g clip-path="url(#ca2)">
<text x="3490.6" y="1309.4" font-size="27" fill="#4c4c4c" stroke="#4c4c4c" stroke-width="0.45" textLength="66.4" lengthAdjust="spacingAndGlyphs" xml:space="preserve">80.00</text>
</g>
<g clip-path="url(#ca2)">
<text x="3490.6" y="1390.4" font-size="27" fill="#4c4c4c" stroke="#4c4c4c" stroke-width="0.45" textLength="66.4" lengthAdjust="spacingAndGlyphs" xml:space="preserve">40.00</text>
</g>
<path d="M3469 68V1516M25 1448H3603" stroke="#454545" stroke-width="2" fill="none"/>
<text x="272.4" y="1492.4" font-size="27" fill="#4c4c4c" stroke="#4c4c4c" stroke-width="0.45" textLength="34.8" lengthAdjust="spacingAndGlyphs" text-anchor="middle" xml:space="preserve">Jul</text>
<text x="636.4" y="1492.4" font-size="27" fill="#4c4c4c" stroke="#4c4c4c" stroke-width="0.45" textLength="62.4" lengthAdjust="spacingAndGlyphs" font-weight="bold" text-anchor="middle" xml:space="preserve">2022</text>
<text x="998.4" y="1492.4" font-size="27" fill="#4c4c4c" stroke="#4c4c4c" stroke-width="0.45" textLength="34.8" lengthAdjust="spacingAndGlyphs" text-anchor="middle" xml:space="preserve">Jul</text>
<text x="1363" y="1492.4" font-size="27" fill="#4c4c4c" stroke="#4c4c4c" stroke-width="0.45" textLength="62.4" lengthAdjust="spacingAndGlyphs" font-weight="bold" text-anchor="middle" xml:space="preserve">2023</text>
<text x="1725.4" y="1492.4" font-size="27" fill="#4c4c4c" stroke="#4c4c4c" stroke-width="0.45" textLength="34.8" lengthAdjust="spacingAndGlyphs" text-anchor="middle" xml:space="preserve">Jul</text>
<text x="2089" y="1492.4" font-size="27" fill="#4c4c4c" stroke="#4c4c4c" stroke-width="0.45" textLength="62.4" lengthAdjust="spacingAndGlyphs" font-weight="bold" text-anchor="middle" xml:space="preserve">2024</text>
<text x="2452" y="1492.4" font-size="27" fill="#4c4c4c" stroke="#4c4c4c" stroke-width="0.45" textLength="34.8" lengthAdjust="spacingAndGlyphs" text-anchor="middle" xml:space="preserve">Jul</text>
<text x="2830" y="1492.4" font-size="27" fill="#4c4c4c" stroke="#4c4c4c" stroke-width="0.45" textLength="62.4" lengthAdjust="spacingAndGlyphs" font-weight="bold" text-anchor="middle" xml:space="preserve">2025</text>
<text x="3192.4" y="1492.4" font-size="27" fill="#4c4c4c" stroke="#4c4c4c" stroke-width="0.45" textLength="34.8" lengthAdjust="spacingAndGlyphs" text-anchor="middle" xml:space="preserve">Jul</text>
<path d="M3348 345.2H3469V384.2H3348a8 8 0 0 1-8-8V353.2a8 8 0 0 1 8-8z" fill="#26a69a"/>
<path d="M3469 345.2H3575a8 8 0 0 1 8 8V408.4a8 8 0 0 1-8 8H3469z" fill="#26a69a"/>
<path d="M3469 345.2V416.4" stroke="#1e8f85" stroke-width="2"/>
<text x="3349.4" y="375" font-size="26" fill="#fff" stroke="#fff" stroke-width="0.45" textLength="107.4" lengthAdjust="spacingAndGlyphs" xml:space="preserve">SOLUSDT</text>
<text x="3490.6" y="375" font-size="26" fill="#fff" stroke="#fff" stroke-width="0.45" textLength="80.4" lengthAdjust="spacingAndGlyphs" xml:space="preserve">148.10</text>
<text x="3491.3" y="407.4" font-size="26" fill="#fff" stroke="#fff" stroke-width="0.45" textLength="79.1" lengthAdjust="spacingAndGlyphs" fill-opacity="0.72" xml:space="preserve">3d 12h</text>
<rect x="3478" y="76.7" width="114" height="63.6" rx="9" fill="#fff" stroke="#eeeeef" stroke-width="1.6"/>
<text x="3502" y="117.4" font-size="28" fill="#0c0c0c" stroke="#0c0c0c" stroke-width="0.45" textLength="68.4" lengthAdjust="spacingAndGlyphs" xml:space="preserve">USDT</text>
<text x="25.6" y="48.7" font-size="28" fill="#151515" stroke="#151515" stroke-width="0.45" textLength="975.2" lengthAdjust="spacingAndGlyphs" xml:space="preserve">Jake_Simmons published on TradingView.com, Apr 24, 2025 08:16 UTC-4</text>
<path d="M25.3 1547.8H44.7V1571.9H35.1V1557H25.3z" fill="#141414"/><circle cx="52.8" cy="1552.9" r="5.1" fill="#141414"/><path d="M62.9 1547.8H73.4L63.7 1571.9H52.8z" fill="#141414"/>
<text x="83.1" y="1573.8" font-size="31.5" fill="#141414" stroke="#141414" stroke-width="0.45" textLength="174.4" lengthAdjust="spacingAndGlyphs" xml:space="preserve">TradingView</text>
</svg></body></html>
